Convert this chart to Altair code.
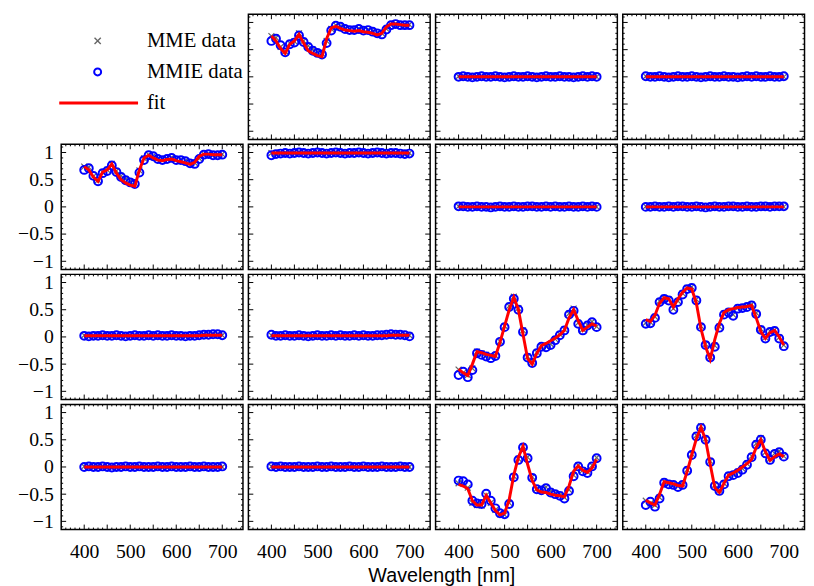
import altair as alt
import pandas as pd

# ---------------- data ----------------
wavelengths = [400, 410, 420, 430, 440, 450, 460, 470, 480, 490, 500,
               510, 520, 530, 540, 550, 560, 570, 580, 590, 600,
               610, 620, 630, 640, 650, 660, 670, 680, 690, 700]

legend_labels = ["MME data", "MMIE data", "fit"]

x_label_ticks = [400, 500, 600, 700]
x_major = [400, 450, 500, 550, 600, 650, 700]
x_minor = [360, 370, 380, 390, 410, 420, 430, 440, 460, 470, 480, 490, 510, 520, 530, 540,
           560, 570, 580, 590, 610, 620, 630, 640, 660, 670, 680, 690, 710, 720, 730, 740]
y_major = [-1, -0.5, 0, 0.5, 1]
y_minor = [-1.1, -0.9, -0.8, -0.7, -0.6, -0.4, -0.3, -0.2, -0.1,
           0.1, 0.2, 0.3, 0.4, 0.6, 0.7, 0.8, 0.9, 1.1]

# m12
m12_mmie = [0.66, 0.70, 0.58, 0.45, 0.60, 0.63, 0.76, 0.64, 0.55, 0.48, 0.44, 0.41, 0.62, 0.85, 0.94, 0.92,
            0.88, 0.86, 0.86, 0.88, 0.85, 0.86, 0.83, 0.80, 0.78, 0.87, 0.95, 0.97, 0.95, 0.95, 0.95]
m12_mme = [0.75, 0.72, 0.55, 0.47, 0.62, 0.65, 0.80, 0.66, 0.57, 0.50, 0.46, 0.43, 0.66, 0.88, 0.95, 0.93,
           0.89, 0.87, 0.87, 0.89, 0.86, 0.87, 0.84, 0.81, 0.80, 0.88, 0.96, 0.98, 0.96, 0.96, 0.96]
m12_fit = [0.75, 0.66, 0.52, 0.43, 0.60, 0.66, 0.78, 0.62, 0.48, 0.43, 0.39, 0.37, 0.70, 0.90, 0.93, 0.89,
           0.86, 0.85, 0.84, 0.85, 0.83, 0.82, 0.80, 0.77, 0.80, 0.92, 0.97, 0.97, 0.96, 0.95, 0.95]
# m21
m21_mmie = [0.68, 0.71, 0.57, 0.47, 0.62, 0.66, 0.76, 0.64, 0.55, 0.49, 0.45, 0.42, 0.63, 0.86, 0.95, 0.93,
            0.88, 0.86, 0.88, 0.90, 0.86, 0.86, 0.84, 0.80, 0.79, 0.88, 0.96, 0.97, 0.95, 0.95, 0.96]
m21_mme = [0.74, 0.73, 0.56, 0.49, 0.64, 0.68, 0.79, 0.66, 0.57, 0.51, 0.47, 0.44, 0.67, 0.89, 0.96, 0.94,
           0.89, 0.87, 0.89, 0.91, 0.87, 0.87, 0.85, 0.81, 0.81, 0.89, 0.97, 0.98, 0.96, 0.96, 0.97]
m21_fit = [0.74, 0.68, 0.55, 0.47, 0.64, 0.68, 0.79, 0.62, 0.50, 0.44, 0.40, 0.38, 0.68, 0.90, 0.95, 0.90,
           0.86, 0.85, 0.87, 0.88, 0.85, 0.83, 0.81, 0.78, 0.82, 0.93, 0.97, 0.97, 0.96, 0.96, 0.96]
# m22
m22_mmie = [0.95, 0.97, 0.98, 0.99, 0.98, 0.99, 1.00, 0.99, 0.98, 0.99, 1.00, 0.99, 0.98, 0.99, 1.00, 0.99,
            0.98, 0.99, 0.99, 1.00, 0.99, 0.98, 0.99, 1.00, 0.99, 0.98, 0.99, 0.99, 0.98, 0.97, 0.98]
m22_mme = [0.99, 0.99, 1.00, 0.99, 0.99, 1.00, 0.99, 0.99, 1.00, 0.99, 0.99, 1.00, 0.99, 0.99, 0.99, 1.00,
           0.99, 0.99, 1.00, 0.99, 0.99, 0.99, 1.00, 0.99, 0.99, 1.00, 0.99, 0.99, 0.99, 0.99, 0.99]
m22_fit = [0.99, 0.99, 0.99, 0.99, 0.99, 0.99, 0.99, 0.99, 0.99, 0.99, 0.99, 0.99, 0.99, 0.99, 0.99, 0.99,
           0.99, 0.99, 0.99, 0.99, 0.99, 0.99, 0.99, 0.99, 0.99, 0.99, 0.99, 0.99, 0.99, 0.99, 0.99]
# near-zero elements
m13_mmie = [0.00, 0.01, 0.00, -0.01, 0.00, 0.01, 0.00, 0.00, 0.01, 0.00, -0.01, 0.00, 0.01, 0.00, 0.00, 0.01,
            0.00, -0.01, 0.00, 0.01, 0.00, 0.00, 0.01, 0.00, 0.00, -0.01, 0.00, 0.01, 0.00, 0.01, 0.00]
m14_mmie = [0.01, 0.00, 0.00, 0.01, 0.00, -0.01, 0.00, 0.01, 0.00, 0.00, 0.01, 0.00, -0.01, 0.00, 0.01, 0.00,
            0.00, 0.01, 0.00, 0.00, -0.01, 0.00, 0.01, 0.00, 0.01, 0.00, 0.00, 0.01, 0.00, 0.00, 0.01]
m23_mmie = [0.01, 0.01, 0.00, 0.00, 0.01, 0.00, 0.00, -0.01, 0.00, 0.01, 0.00, 0.00, 0.01, 0.00, 0.00, 0.01,
            0.01, 0.00, 0.00, 0.01, 0.00, 0.01, 0.00, 0.00, 0.01, 0.00, 0.00, 0.01, 0.00, 0.01, 0.00]
m24_mmie = [0.00, 0.00, 0.01, 0.00, 0.00, 0.01, 0.00, 0.01, 0.01, 0.00, 0.00, 0.01, 0.00, -0.01, 0.00, 0.01,
            0.00, 0.00, 0.01, 0.01, 0.00, 0.00, 0.01, 0.00, 0.00, 0.01, 0.01, 0.00, 0.01, 0.01, 0.01]
m31_mmie = [0.02, 0.01, 0.02, 0.02, 0.03, 0.02, 0.02, 0.03, 0.02, 0.01, 0.02, 0.03, 0.02, 0.02, 0.03, 0.02,
            0.03, 0.02, 0.02, 0.03, 0.02, 0.02, 0.01, 0.02, 0.02, 0.03, 0.04, 0.04, 0.05, 0.05, 0.03]
m32_mmie = [0.04, 0.02, 0.02, 0.03, 0.02, 0.02, 0.03, 0.02, 0.01, 0.02, 0.03, 0.02, 0.02, 0.03, 0.02, 0.03,
            0.02, 0.02, 0.03, 0.02, 0.03, 0.02, 0.02, 0.03, 0.03, 0.04, 0.05, 0.04, 0.04, 0.03, 0.01]
m41_mmie = [0.00, 0.01, 0.00, 0.00, 0.01, 0.00, -0.01, 0.00, 0.00, 0.01, 0.00, 0.00, 0.01, 0.00, 0.00, 0.00,
            0.01, 0.00, 0.00, 0.01, 0.00, 0.00, 0.00, 0.01, 0.00, 0.00, 0.01, 0.00, 0.00, 0.00, 0.01]
m42_mmie = [0.01, 0.00, 0.01, 0.00, 0.00, 0.00, 0.01, 0.00, 0.00, 0.00, 0.01, 0.00, 0.00, 0.01, 0.00, 0.00,
            0.00, 0.01, 0.00, 0.00, 0.01, 0.00, 0.00, 0.00, 0.01, 0.00, 0.00, 0.00, 0.01, 0.00, 0.00]
zero_mme = [0.01, 0.00, 0.00, 0.01, 0.00, 0.00, 0.01, 0.00, 0.01, 0.00, 0.00, 0.01, 0.00, 0.00, 0.01, 0.00,
            0.01, 0.00, 0.00, 0.01, 0.00, 0.01, 0.00, 0.00, 0.01, 0.00, 0.00, 0.01, 0.00, 0.01, 0.00]
zero_fit = [0.00, 0.00, 0.00, 0.00, 0.00, 0.00, 0.00, 0.00, 0.00, 0.00, 0.00, 0.00, 0.00, 0.00, 0.00, 0.00,
            0.00, 0.00, 0.00, 0.00, 0.00, 0.00, 0.00, 0.00, 0.00, 0.00, 0.00, 0.00, 0.00, 0.00, 0.00]
row3_mme = [0.03, 0.02, 0.02, 0.02, 0.02, 0.03, 0.02, 0.02, 0.02, 0.02, 0.03, 0.02, 0.02, 0.02, 0.02, 0.02,
            0.03, 0.02, 0.02, 0.02, 0.02, 0.02, 0.02, 0.03, 0.02, 0.03, 0.04, 0.04, 0.04, 0.04, 0.03]
row3_fit = [0.02, 0.02, 0.02, 0.02, 0.02, 0.02, 0.02, 0.02, 0.02, 0.02, 0.02, 0.02, 0.02, 0.02, 0.02, 0.02,
            0.02, 0.02, 0.02, 0.02, 0.02, 0.02, 0.02, 0.02, 0.02, 0.02, 0.03, 0.03, 0.03, 0.03, 0.03]
# m33
m33_mmie = [-0.70, -0.64, -0.74, -0.61, -0.30, -0.33, -0.36, -0.39, -0.35, -0.09, 0.18, 0.55, 0.70, 0.50, 0.09, -0.38,
            -0.48, -0.30, -0.18, -0.19, -0.15, -0.06, 0.03, 0.12, 0.41, 0.48, 0.24, 0.12, 0.21, 0.27, 0.18]
m33_mme = [-0.60, -0.66, -0.70, -0.58, -0.27, -0.30, -0.33, -0.36, -0.34, -0.08, 0.20, 0.57, 0.74, 0.53, 0.12, -0.36,
           -0.46, -0.28, -0.17, -0.17, -0.13, -0.04, 0.05, 0.14, 0.43, 0.52, 0.26, 0.14, 0.22, 0.28, 0.19]
m33_fit = [-0.59, -0.66, -0.71, -0.50, -0.27, -0.29, -0.32, -0.34, -0.36, -0.10, 0.20, 0.50, 0.73, 0.50, 0.05, -0.40,
           -0.50, -0.30, -0.16, -0.12, -0.07, -0.02, 0.04, 0.12, 0.35, 0.50, 0.30, 0.12, 0.18, 0.24, 0.20]
# m34
m34_mmie = [0.24, 0.25, 0.35, 0.64, 0.70, 0.67, 0.50, 0.64, 0.78, 0.88, 0.90, 0.67, 0.18, -0.15, -0.38, -0.18,
            0.17, 0.41, 0.45, 0.39, 0.52, 0.53, 0.55, 0.58, 0.42, 0.13, -0.03, 0.09, 0.11, -0.03, -0.17]
m34_mme = [0.26, 0.27, 0.37, 0.66, 0.72, 0.69, 0.52, 0.66, 0.80, 0.90, 0.92, 0.69, 0.20, -0.13, -0.36, -0.16,
           0.19, 0.43, 0.47, 0.41, 0.54, 0.55, 0.57, 0.60, 0.44, 0.15, -0.01, 0.11, 0.13, -0.01, -0.15]
m34_fit = [0.32, 0.28, 0.40, 0.62, 0.72, 0.70, 0.55, 0.70, 0.82, 0.90, 0.88, 0.62, 0.15, -0.18, -0.41, -0.05,
           0.25, 0.45, 0.50, 0.52, 0.54, 0.55, 0.56, 0.58, 0.35, 0.10, -0.03, 0.08, 0.12, 0.00, -0.15]
# m43
m43_mmie = [-0.25, -0.26, -0.32, -0.62, -0.67, -0.68, -0.49, -0.62, -0.76, -0.85, -0.87, -0.68, -0.19, 0.13, 0.36, 0.16,
            -0.20, -0.41, -0.43, -0.39, -0.47, -0.50, -0.53, -0.58, -0.44, -0.17, 0.01, -0.08, -0.11, 0.01, 0.16]
m43_mme = [-0.30, -0.30, -0.38, -0.66, -0.70, -0.71, -0.52, -0.66, -0.79, -0.87, -0.88, -0.66, -0.17, 0.15, 0.38, 0.18,
           -0.18, -0.40, -0.41, -0.37, -0.45, -0.48, -0.51, -0.56, -0.42, -0.15, 0.03, -0.06, -0.09, 0.03, 0.17]
m43_fit = [-0.32, -0.35, -0.40, -0.62, -0.70, -0.70, -0.52, -0.66, -0.80, -0.88, -0.85, -0.60, -0.15, 0.18, 0.38, 0.05,
           -0.25, -0.42, -0.46, -0.47, -0.50, -0.52, -0.53, -0.55, -0.35, -0.08, 0.02, -0.06, -0.10, -0.02, 0.14]
# m44
m44_mmie = [-0.70, -0.64, -0.73, -0.58, -0.29, -0.32, -0.33, -0.37, -0.33, -0.07, 0.22, 0.56, 0.72, 0.50, 0.09, -0.35,
            -0.44, -0.32, -0.17, -0.15, -0.11, -0.05, 0.04, 0.18, 0.41, 0.50, 0.25, 0.13, 0.24, 0.27, 0.19]
m44_mme = [-0.62, -0.67, -0.70, -0.56, -0.27, -0.30, -0.31, -0.35, -0.31, -0.05, 0.24, 0.58, 0.75, 0.52, 0.11, -0.33,
           -0.42, -0.30, -0.15, -0.13, -0.09, -0.03, 0.06, 0.20, 0.43, 0.53, 0.27, 0.15, 0.25, 0.29, 0.20]
m44_fit = [-0.61, -0.66, -0.70, -0.50, -0.27, -0.29, -0.31, -0.34, -0.35, -0.08, 0.22, 0.52, 0.73, 0.50, 0.05, -0.38,
           -0.47, -0.30, -0.15, -0.11, -0.06, 0.00, 0.06, 0.14, 0.36, 0.50, 0.28, 0.12, 0.19, 0.24, 0.19]

elements = {
    "m12": (m12_mme, m12_mmie, m12_fit),
    "m13": (zero_mme, m13_mmie, zero_fit),
    "m14": (zero_mme, m14_mmie, zero_fit),
    "m21": (m21_mme, m21_mmie, m21_fit),
    "m22": (m22_mme, m22_mmie, m22_fit),
    "m23": (zero_mme, m23_mmie, zero_fit),
    "m24": (zero_mme, m24_mmie, zero_fit),
    "m31": (row3_mme, m31_mmie, row3_fit),
    "m32": (row3_mme, m32_mmie, row3_fit),
    "m33": (m33_mme, m33_mmie, m33_fit),
    "m34": (m34_mme, m34_mmie, m34_fit),
    "m41": (zero_mme, m41_mmie, zero_fit),
    "m42": (zero_mme, m42_mmie, zero_fit),
    "m43": (m43_mme, m43_mmie, m43_fit),
    "m44": (m44_mme, m44_mmie, m44_fit),
}

# ---------------- style ----------------
SERIF = "Liberation Serif"
W, H = 184.5, 127
MAJOR, MINOR = 5, 2
CROSS = "M-1,-1L1,1M-1,1L1,-1"
GREY = "#666666"
BLUE = "#0000ff"
RED = "#ff0000"


def xs():
    return alt.Scale(domain=[350, 745], nice=False, zero=False)


def ys():
    return alt.Scale(domain=[-1.15, 1.15], nice=False, zero=False)


def x_axis(show):
    if not show:
        return None
    return alt.Axis(orient="bottom", values=x_label_ticks, ticks=False, domain=False, grid=False,
                    title=None, labelFont=SERIF, labelFontSize=20, labelColor="black",
                    labelPadding=12, labelOverlap=False, labelFlush=False, labelBound=False)


def y_axis(show):
    if not show:
        return None
    return alt.Axis(orient="left", values=y_major, ticks=False, domain=False, grid=False,
                    title=None, labelFont=SERIF, labelFontSize=20, labelColor="black",
                    labelPadding=8, format="~g", labelOverlap=False, labelFlush=False,
                    labelBound=False)


def tick_layers(xa, ya):
    layers = []
    for vals, ln in ((x_major, MAJOR), (x_minor, MINOR)):
        d = alt.Chart(pd.DataFrame({"t": vals}))
        X = alt.X("t:Q", scale=xs(), axis=xa)
        layers.append(d.mark_rule(color="black", strokeWidth=1).encode(
            x=X, y=alt.value(H), y2=alt.value(H - ln)))
        layers.append(d.mark_rule(color="black", strokeWidth=1).encode(
            x=X, y=alt.value(0), y2=alt.value(ln)))
    for vals, ln in ((y_major, MAJOR), (y_minor, MINOR)):
        d = alt.Chart(pd.DataFrame({"t": vals}))
        Y = alt.Y("t:Q", scale=ys(), axis=ya)
        layers.append(d.mark_rule(color="black", strokeWidth=1).encode(
            y=Y, x=alt.value(0), x2=alt.value(ln)))
        layers.append(d.mark_rule(color="black", strokeWidth=1).encode(
            y=Y, x=alt.value(W), x2=alt.value(W - ln)))
    return layers


def panel(key, row, col):
    mme, mmie, fit = elements[key]
    df = pd.DataFrame({"wl": wavelengths, "mme": mme, "mmie": mmie, "fit": fit})
    b = alt.Chart(df)
    xa = x_axis(row == 3)
    ya = y_axis(col == 0)
    X = alt.X("wl:Q", scale=xs(), axis=xa)
    crosses = b.mark_point(shape=CROSS, filled=False, color=GREY, strokeWidth=1.2, size=36, opacity=1).encode(
        x=X, y=alt.Y("mme:Q", scale=ys(), axis=ya))
    circles = b.mark_point(shape="circle", filled=False, color=BLUE, strokeWidth=2, size=64, opacity=1).encode(
        x=X, y=alt.Y("mmie:Q", scale=ys(), axis=ya))
    line = b.mark_line(color=RED, strokeWidth=3).encode(
        x=X, y=alt.Y("fit:Q", scale=ys(), axis=ya))
    return alt.layer(*tick_layers(xa, ya), crosses, circles, line).properties(width=W, height=H)


def legend_cell():
    leg = pd.DataFrame({"label": legend_labels, "idx": [0, 1, 2]})
    LY = alt.Scale(domain=[0, 2], range=[27, 90])
    ly = alt.Y("idx:Q", scale=LY, axis=None)
    b = alt.Chart(leg)
    cross = b.transform_filter("datum.idx == 0").mark_point(
        shape=CROSS, filled=False, color=GREY, strokeWidth=1.4, size=40, opacity=1).encode(x=alt.value(37), y=ly)
    circ = b.transform_filter("datum.idx == 1").mark_point(
        shape="circle", filled=False, color=BLUE, strokeWidth=2, size=50, opacity=1).encode(x=alt.value(37), y=ly)
    rule = b.transform_filter("datum.idx == 2").mark_rule(color=RED, strokeWidth=3).encode(
        x=alt.value(-2), x2=alt.value(78), y=ly)
    text = b.mark_text(align="left", baseline="middle", font=SERIF, fontSize=21, color="black").encode(
        x=alt.value(87), y=ly, text="label:N")
    return alt.layer(cross, circ, rule, text).properties(
        width=W, height=H, view=alt.ViewBackground(stroke="transparent"))


grid = [["legend", "m12", "m13", "m14"],
        ["m21", "m22", "m23", "m24"],
        ["m31", "m32", "m33", "m34"],
        ["m41", "m42", "m43", "m44"]]

cells = []
for r, names in enumerate(grid):
    for c, name in enumerate(names):
        cells.append(legend_cell() if name == "legend" else panel(name, r, c))

chart = alt.concat(*cells, columns=4, spacing={"row": 5, "column": 5}, bounds="flush").properties(
    padding={"left": 8, "top": 0, "right": 0, "bottom": 0},
    title=alt.TitleParams("Wavelength [nm]", orient="bottom", anchor="middle",
                          font="Liberation Sans", fontSize=20, fontWeight="normal",
                          color="black", offset=4, dx=31),
).configure_view(stroke="black", strokeWidth=1.5).configure_axis(
    labelFont=SERIF, labelFontSize=20, labelColor="black")

chart.save("out.html", embed_options={"renderer": "svg", "actions": False})
